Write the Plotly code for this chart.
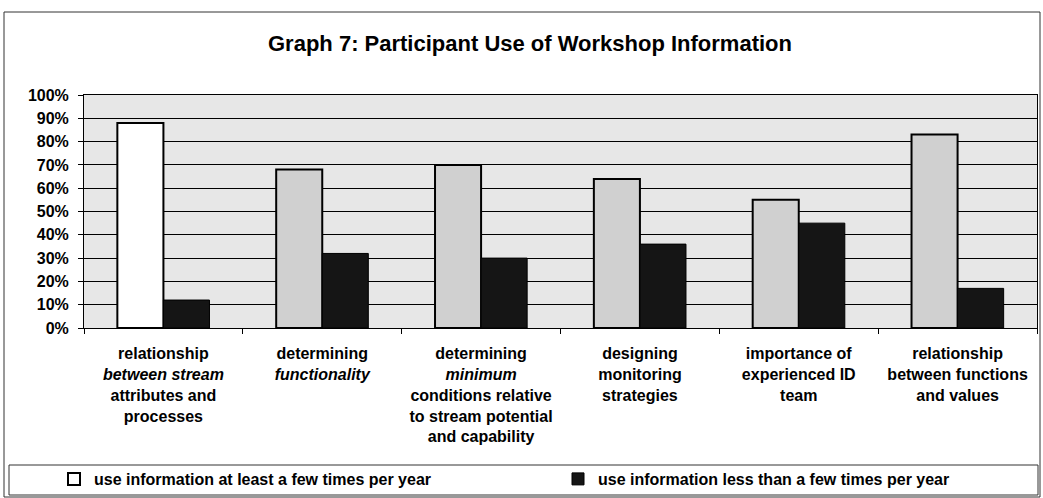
import plotly.graph_objects as go

# Graph 7 data (share of participants, %)
categories = [
    "relationship<br><i>between stream</i><br>attributes and<br>processes",
    "determining<br><i>functionality</i>",
    "determining<br><i>minimum</i><br>conditions relative<br>to stream potential<br>and capability",
    "designing<br>monitoring<br>strategies",
    "importance of<br>experienced ID<br>team",
    "relationship<br>between functions<br>and values",
]
at_least_few = [88, 68, 70, 64, 55, 83]
less_than_few = [12, 32, 30, 36, 45, 17]
y_ticks = [0, 10, 20, 30, 40, 50, 60, 70, 80, 90, 100]
y_tick_labels = [f"{v}%" for v in y_ticks]

FONT = "Liberation Sans, Arial, sans-serif"
FS = 16

# first bar came out white in the scan, the rest stippled grey
light_colors = ["#ffffff"] + ["#d0d0d0"] * (len(categories) - 1)

fig = go.Figure()
fig.add_trace(go.Bar(
    x=categories, y=at_least_few,
    name="use information at least a few times per year",
    marker=dict(color=light_colors, line=dict(color="black", width=2)),
))
fig.add_trace(go.Bar(
    x=categories, y=less_than_few,
    name="use information less than a few times per year",
    marker=dict(color="#151515", line=dict(color="black", width=1)),
))

# plot area in pixels: x 84..1037, y 95..328
L, R, T, B = 84, 6, 95, 170
W, H = 1043, 498
pw, ph = W - L - R, H - T - B


def px_x(x):
    return (x - L) / pw


def px_y(y):
    return (H - B - y) / ph


fig.update_layout(
    width=W, height=H,
    margin=dict(l=L, r=R, t=T, b=B, autoexpand=False),
    paper_bgcolor="white",
    plot_bgcolor="#e7e7e7",
    barmode="group",
    bargap=0.42,
    bargroupgap=0,
    font=dict(family=FONT, size=FS, color="black"),
    title=dict(
        text="<b>Graph 7: Participant Use of Workshop Information</b>",
        x=px_x(530), xref="paper", xanchor="center",
        y=1 - 43 / H, yref="container", yanchor="middle",
        font=dict(family=FONT, size=22, color="black"),
    ),
    showlegend=True,
    legend=dict(
        orientation="h",
        x=px_x(54), xanchor="left",
        y=px_y(479), yanchor="middle",
        entrywidth=459, entrywidthmode="pixels",
        bgcolor="rgba(0,0,0,0)",
        font=dict(family=FONT, size=FS, color="black", weight="bold"),
        itemclick=False,
    ),
    shapes=[
        # outer chart frame
        dict(type="rect", xref="paper", yref="paper",
             x0=px_x(4), x1=px_x(1040), y0=px_y(497), y1=px_y(12),
             line=dict(color="#333333", width=1), layer="below"),
        # legend frame
        dict(type="rect", xref="paper", yref="paper",
             x0=px_x(9), x1=px_x(1038), y0=px_y(495), y1=px_y(465),
             line=dict(color="#333333", width=1), layer="below"),
    ],
)

fig.update_xaxes(
    showline=True, linecolor="black", linewidth=1, mirror=True,
    ticks="outside", tickson="boundaries", ticklen=5, tickcolor="black",
    ticklabelstandoff=11,
    tickfont=dict(family=FONT, size=FS, color="black", weight="bold"),
    showgrid=False,
)
fig.update_yaxes(
    range=[0, 100],
    tickvals=y_ticks, ticktext=y_tick_labels,
    showline=True, linecolor="black", linewidth=1, mirror=True,
    ticks="outside", ticklen=5, tickcolor="black",
    ticklabelstandoff=6,
    showgrid=True, gridcolor="black", gridwidth=1,
    tickfont=dict(family=FONT, size=FS, color="black", weight="bold"),
    zeroline=False,
)

fig.write_html(
    "out.html",
    config={"displayModeBar": False},
    post_script="document.body.style.margin = '0';",
)
